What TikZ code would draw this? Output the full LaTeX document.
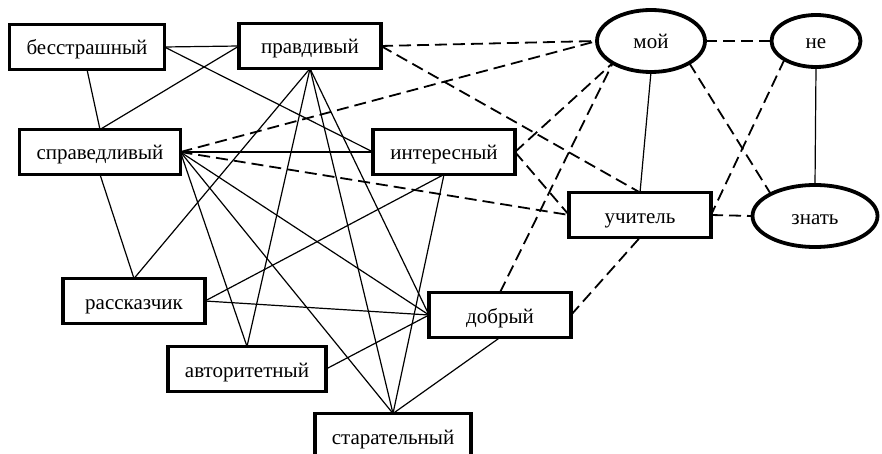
\documentclass[tikz,border=0pt]{standalone}
\usepackage{fontspec}
\setmainfont{Liberation Serif}
\usetikzlibrary{shapes.geometric}
\begin{document}
\begin{tikzpicture}[x=1pt,y=-1pt,inner sep=0pt,outer sep=0pt,
font=\fontsize{21}{25}\selectfont,text height=16pt,text depth=0pt,
wordbox/.style={draw,rectangle,inner xsep=17pt,minimum width=142pt,minimum height=45pt,line width=3.8pt},
wordoval/.style={draw,ellipse,line width=3.8pt},
tie/.style={line width=1.2pt},
dashtie/.style={line width=1.8pt,dash pattern=on 12pt off 6pt}]
\useasboundingbox (0,0) rectangle (882,454);
\draw (87,47) node[wordbox] (bess) {бесстрашный};
\draw (310,46) node[wordbox] (prav) {правдивый};
\draw (100,152) node[wordbox] (sprav) {справедливый};
\draw (444,152) node[wordbox] (inter) {интересный};
\draw (640,215) node[wordbox] (uchit) {учитель};
\draw (134,301) node[wordbox] (rassk) {рассказчик};
\draw (247,369) node[wordbox] (avtor) {авторитетный};
\draw (393,436) node[wordbox] (star) {старательный};
\draw (500,315) node[wordbox] (dobr) {добрый};
\draw (651,41) node[wordoval,minimum width=108pt,minimum height=62pt] (moi) {мой};
\draw (816,41) node[wordoval,minimum width=89pt,minimum height=52pt] (ne) {не};
\draw (815,216) node[wordoval,minimum width=125pt,minimum height=62pt] (znat) {знать};
% solid links
\draw[tie] (bess.east) -- (prav.west);
\draw[tie] (bess.east) -- (inter.west);
\draw[tie] (bess.south) -- (sprav.north);
\draw[tie] (prav.west) -- (sprav.north);
\draw[tie] (sprav.east) -- (inter.west);
\draw[tie] (sprav.south) -- (rassk.north);
\draw[tie] (prav.south) -- (rassk.north);
\draw[tie] (prav.south) -- (avtor.north);
\draw[tie] (prav.south) -- (star.north);
\draw[tie] (prav.south) -- (dobr.west);
\draw[tie] (sprav.east) -- (avtor.north);
\draw[tie] (sprav.east) -- (star.north);
\draw[tie] (sprav.east) -- (dobr.west);
\draw[tie] (inter.south) -- (rassk.east);
\draw[tie] (inter.south) -- (star.north);
\draw[tie] (rassk.east) -- (dobr.west);
\draw[tie] (avtor.east) -- (dobr.west);
\draw[tie] (star.north) -- (dobr.south);
\draw[tie] (moi.south) -- (uchit.north);
\draw[tie] (ne.south) -- (znat.north);
% dashed links
\draw[dashtie] (prav.east) -- (moi.west);
\draw[dashtie] (prav.east) -- (uchit.north);
\draw[dashtie] (sprav.east) -- (moi.west);
\draw[dashtie] (sprav.east) -- (uchit.west);
\draw[dashtie] (inter.east) -- (moi.south west);
\draw[dashtie] (inter.east) -- (uchit.west);
\draw[dashtie] (dobr.north) -- (moi.south west);
\draw[dashtie] (dobr.east) -- (uchit.south);
\draw[dashtie] (moi.east) -- (ne.west);
\draw[dashtie] (moi.south east) -- (znat.north west);
\draw[dashtie] (ne.south west) -- (uchit.east);
\draw[dashtie] (uchit.east) -- (znat.west);
\end{tikzpicture}
\end{document}
